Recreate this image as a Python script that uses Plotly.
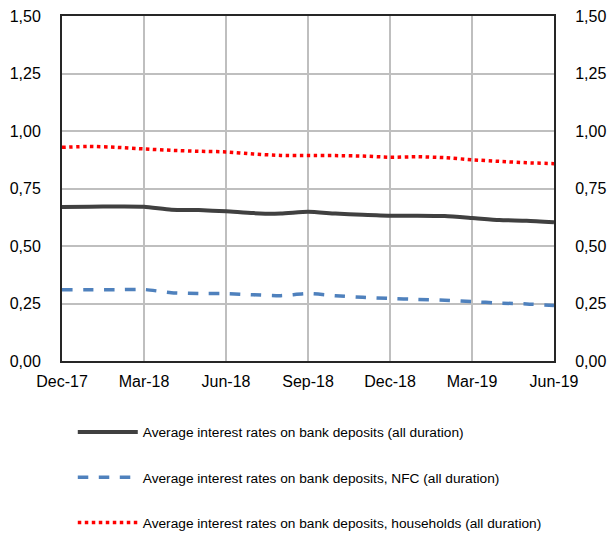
import plotly.graph_objects as go

months = ["Dec-17", "Jan-18", "Feb-18", "Mar-18", "Apr-18", "May-18", "Jun-18",
          "Jul-18", "Aug-18", "Sep-18", "Oct-18", "Nov-18", "Dec-18", "Jan-19",
          "Feb-19", "Mar-19", "Apr-19", "May-19", "Jun-19"]
all_dep = [0.670, 0.671, 0.672, 0.671, 0.658, 0.656, 0.651, 0.643, 0.641, 0.649,
           0.641, 0.636, 0.632, 0.632, 0.630, 0.622, 0.613, 0.610, 0.603]
nfc_dep = [0.310, 0.310, 0.310, 0.311, 0.297, 0.293, 0.293, 0.288, 0.284, 0.293,
           0.284, 0.277, 0.272, 0.268, 0.264, 0.258, 0.252, 0.248, 0.241]
hh_dep = [0.929, 0.933, 0.929, 0.922, 0.916, 0.912, 0.909, 0.900, 0.894, 0.893,
          0.893, 0.891, 0.886, 0.888, 0.884, 0.875, 0.868, 0.862, 0.858]
tick_months = ["Dec-17", "Mar-18", "Jun-18", "Sep-18", "Dec-18", "Mar-19", "Jun-19"]
y_ticks = [0, 0.25, 0.5, 0.75, 1.0, 1.25, 1.5]

names = ["Average interest rates on bank deposits (all duration)",
         "Average interest rates on bank deposits, NFC (all duration)",
         "Average interest rates on bank deposits, households (all duration)"]

fig = go.Figure()
fig.add_trace(go.Scatter(x=months, y=all_dep, name=names[0], mode="lines",
                         line=dict(color="#404040", width=4, shape="spline", smoothing=0.6),
                         legendgroup="a"))
fig.add_trace(go.Scatter(x=months, y=nfc_dep, name=names[1], mode="lines",
                         line=dict(color="#4F81BD", width=3.5, dash="dash", shape="spline", smoothing=0.6),
                         legendgroup="b"))
fig.add_trace(go.Scatter(x=months, y=hh_dep, name=names[2], mode="lines",
                         line=dict(color="#FF0000", width=3.5, dash="dot", shape="spline", smoothing=0.6),
                         legendgroup="c"))
# invisible trace to activate right axis
fig.add_trace(go.Scatter(x=months, y=all_dep, yaxis="y2", mode="lines",
                         line=dict(width=0), showlegend=False, hoverinfo="skip", opacity=0))

font = dict(family="Liberation Sans, Arial, sans-serif", size=16, color="#000000")
axcol = "#262626"
fig.update_layout(
    width=608, height=533,
    margin=dict(l=62, r=54, t=16, b=172, autoexpand=False),
    paper_bgcolor="white", plot_bgcolor="white",
    separators=",.",
    font=font,
    xaxis=dict(type="category", range=[0, 18], tickvals=tick_months, ticktext=tick_months,
               showgrid=True, gridcolor="#BFBFBF", gridwidth=2,
               showline=True, linecolor=axcol, linewidth=2, mirror=True,
               ticks="", tickfont=font, ticklabelstandoff=5, zeroline=False),
    yaxis=dict(range=[0, 1.5], tickvals=y_ticks, tickformat=".2f",
               showgrid=True, gridcolor="#BFBFBF", gridwidth=2,
               showline=True, linecolor=axcol, linewidth=2,
               ticks="", tickfont=font, ticklabelstandoff=16, zeroline=False),
    yaxis2=dict(range=[0, 1.5], tickvals=y_ticks, tickformat=".2f",
                overlaying="y", side="right", showgrid=False,
                showline=True, linecolor=axcol, linewidth=2,
                ticks="", tickfont=font, ticklabelstandoff=16, zeroline=False),
    legend=dict(orientation="v", xref="container", x=0.1197, xanchor="left",
                yref="container", y=0.2186, yanchor="top",
                font=dict(family="Liberation Sans, Arial, sans-serif", size=13.7, color="#000000"),
                tracegroupgap=24.5, itemwidth=60, bgcolor="rgba(0,0,0,0)"),
    showlegend=True,
    hovermode=False,
)
fig.write_html("out.html", config={"displayModeBar": False},
               post_script="document.body.style.margin='0';")
